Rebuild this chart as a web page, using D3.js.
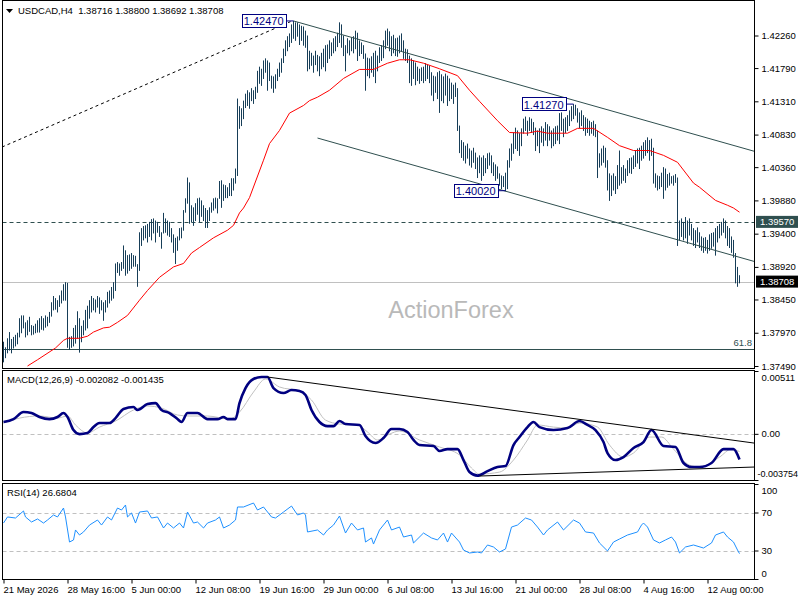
<!DOCTYPE html>
<html>
<head>
<meta charset="utf-8">
<script src="https://cdn.jsdelivr.net/npm/d3@7"></script>
<style>
body { margin: 0; background: #fff; }
svg text { font-family: "Liberation Sans", Arial, sans-serif; }
</style>
</head>
<body>
<script>
// USDCAD H4 bars, high / low per bar
var highs = [
1.3784,1.3776,1.3789,1.3798,1.3788,1.3791,1.3794,1.3797,1.3818,1.3822,
1.3822,1.3812,1.3815,1.3820,1.3808,1.3807,1.3810,1.3815,1.3818,1.3821,
1.3818,1.3822,1.3820,1.3827,1.3841,1.3850,1.3847,1.3844,1.3851,1.3858,
1.3867,1.3870,1.3869,1.3791,1.3792,1.3804,1.3808,1.3828,1.3818,1.3807,
1.3815,1.3830,1.3836,1.3844,1.3850,1.3847,1.3845,1.3850,1.3848,1.3844,
1.3841,1.3844,1.3856,1.3858,1.3863,1.3870,1.3897,1.3899,1.3897,1.3899,
1.3923,1.3916,1.3909,1.3910,1.3912,1.3909,1.3908,1.3896,1.3942,1.3948,
1.3951,1.3952,1.3954,1.3957,1.3961,1.3962,1.3959,1.3957,1.3951,1.3942,
1.3970,1.3962,1.3959,1.3957,1.3948,1.3939,1.3934,1.3936,1.3948,1.3949,
1.3974,1.3991,1.4021,1.4014,1.3981,1.3978,1.3984,1.3991,1.3992,1.3988,
1.3981,1.3977,1.3974,1.3978,1.3985,1.3991,1.3992,1.3991,1.4016,1.4017,
1.4011,1.4010,1.4007,1.4013,1.4020,1.4020,1.4034,1.4135,1.4124,1.4121,
1.4132,1.4142,1.4147,1.4144,1.4150,1.4147,1.4152,1.4175,1.4181,1.4178,
1.4190,1.4193,1.4190,1.4187,1.4168,1.4167,1.4170,1.4178,1.4187,1.4193,
1.4207,1.4219,1.4225,1.4229,1.4242,1.4247,1.4245,1.4245,1.4242,1.4240,
1.4239,1.4233,1.4226,1.4204,1.4201,1.4197,1.4204,1.4198,1.4196,1.4201,
1.4207,1.4212,1.4213,1.4219,1.4216,1.4222,1.4225,1.4230,1.4245,1.4242,
1.4226,1.4212,1.4222,1.4219,1.4223,1.4225,1.4233,1.4230,1.4219,1.4216,
1.4212,1.4200,1.4194,1.4193,1.4196,1.4201,1.4204,1.4197,1.4209,1.4212,
1.4219,1.4233,1.4236,1.4232,1.4225,1.4227,1.4222,1.4223,1.4226,1.4229,
1.4219,1.4207,1.4206,1.4197,1.4193,1.4190,1.4187,1.4181,1.4178,1.4180,
1.4181,1.4186,1.4184,1.4183,1.4173,1.4168,1.4167,1.4173,1.4175,1.4170,
1.4167,1.4171,1.4168,1.4164,1.4158,1.4155,1.4158,1.4150,1.4096,1.4075,
1.4072,1.4067,1.4070,1.4063,1.4060,1.4064,1.4057,1.4050,1.4053,1.4050,
1.4053,1.4049,1.4056,1.4057,1.4053,1.4043,1.4040,1.4037,1.4027,1.4024,
1.4023,1.4028,1.4046,1.4063,1.4070,1.4086,1.4093,1.4089,1.4085,1.4092,
1.4106,1.4109,1.4103,1.4108,1.4106,1.4101,1.4093,1.4089,1.4092,1.4095,
1.4092,1.4101,1.4098,1.4095,1.4089,1.4092,1.4095,1.4096,1.4114,1.4115,
1.4106,1.4108,1.4111,1.4118,1.4124,1.4127,1.4126,1.4121,1.4115,1.4118,
1.4111,1.4108,1.4106,1.4103,1.4101,1.4103,1.4098,1.4089,1.4056,1.4063,
1.4067,1.4064,1.4046,1.4027,1.4024,1.4027,1.4023,1.4039,1.4060,1.4036,
1.4039,1.4034,1.4046,1.4049,1.4050,1.4053,1.4060,1.4063,1.4064,1.4067,
1.4072,1.4075,1.4079,1.4075,1.4077,1.4064,1.4027,1.4024,1.4023,1.4028,
1.4036,1.4034,1.4026,1.4028,1.4023,1.4024,1.4026,1.4021,1.3959,1.3962,
1.3957,1.3964,1.3959,1.3962,1.3954,1.3948,1.3945,1.3949,1.3942,1.3936,
1.3934,1.3935,1.3931,1.3939,1.3941,1.3942,1.3948,1.3951,1.3954,1.3957,
1.3962,1.3959,1.3951,1.3948,1.3936,1.3931,1.3912,1.3892,1.3880
];
var lows = [
1.3755,1.3761,1.3768,1.3772,1.3768,1.3775,1.3778,1.3781,1.3791,1.3797,
1.3804,1.3791,1.3794,1.3799,1.3794,1.3795,1.3797,1.3798,1.3798,1.3802,
1.3801,1.3805,1.3807,1.3812,1.3821,1.3830,1.3831,1.3827,1.3835,1.3840,
1.3844,1.3844,1.3776,1.3773,1.3776,1.3778,1.3782,1.3789,1.3769,1.3784,
1.3794,1.3801,1.3804,1.3818,1.3827,1.3830,1.3827,1.3834,1.3825,1.3830,
1.3815,1.3827,1.3834,1.3840,1.3844,1.3847,1.3858,1.3884,1.3880,1.3887,
1.3890,1.3880,1.3883,1.3887,1.3890,1.3893,1.3893,1.3864,1.3887,1.3923,
1.3931,1.3934,1.3928,1.3936,1.3931,1.3941,1.3928,1.3942,1.3936,1.3919,
1.3941,1.3942,1.3938,1.3936,1.3928,1.3913,1.3897,1.3916,1.3931,1.3934,
1.3945,1.3971,1.3984,1.3955,1.3957,1.3952,1.3959,1.3968,1.3957,1.3965,
1.3959,1.3949,1.3949,1.3959,1.3971,1.3974,1.3977,1.3970,1.3991,1.3978,
1.3988,1.3992,1.3992,1.3995,1.3995,1.4003,1.4013,1.4024,1.4092,1.4096,
1.4106,1.4122,1.4125,1.4121,1.4132,1.4128,1.4135,1.4144,1.4157,1.4154,
1.4164,1.4173,1.4147,1.4161,1.4150,1.4144,1.4150,1.4161,1.4167,1.4173,
1.4187,1.4197,1.4204,1.4210,1.4216,1.4222,1.4219,1.4225,1.4213,1.4219,
1.4212,1.4209,1.4175,1.4178,1.4183,1.4173,1.4184,1.4175,1.4168,1.4178,
1.4181,1.4175,1.4187,1.4193,1.4197,1.4201,1.4204,1.4210,1.4216,1.4209,
1.4197,1.4175,1.4201,1.4198,1.4204,1.4201,1.4207,1.4190,1.4197,1.4200,
1.4193,1.4147,1.4168,1.4165,1.4173,1.4167,1.4158,1.4175,1.4187,1.4190,
1.4194,1.4207,1.4212,1.4204,1.4197,1.4201,1.4197,1.4196,1.4201,1.4204,
1.4193,1.4190,1.4187,1.4158,1.4154,1.4164,1.4155,1.4161,1.4157,1.4161,
1.4158,1.4161,1.4164,1.4158,1.4140,1.4132,1.4144,1.4135,1.4115,1.4132,
1.4129,1.4140,1.4125,1.4132,1.4135,1.4128,1.4138,1.4089,1.4057,1.4050,
1.4046,1.4042,1.4049,1.4039,1.4036,1.4043,1.4034,1.4021,1.4028,1.4017,
1.4024,1.4028,1.4034,1.4039,1.4028,1.4024,1.4017,1.4020,1.4010,1.4005,
1.4008,1.4002,1.4005,1.4036,1.4046,1.4056,1.4063,1.4060,1.4053,1.4067,
1.4085,1.4089,1.4082,1.4089,1.4086,1.4083,1.4060,1.4067,1.4057,1.4072,
1.4067,1.4075,1.4067,1.4075,1.4064,1.4067,1.4070,1.4075,1.4070,1.4089,
1.4080,1.4086,1.4089,1.4096,1.4103,1.4106,1.4111,1.4101,1.4093,1.4096,
1.4089,1.4082,1.4086,1.4082,1.4085,1.4082,1.4080,1.4021,1.4036,1.4039,
1.4043,1.4036,1.4003,1.3988,1.3995,1.4003,1.3998,1.4005,1.4010,1.4013,
1.4017,1.4014,1.4024,1.4028,1.4027,1.4034,1.4037,1.4042,1.4034,1.4046,
1.4049,1.4053,1.4057,1.4046,1.4053,1.4013,1.4007,1.4003,1.4005,1.4008,
1.3991,1.4003,1.4007,1.4010,1.4013,1.4010,1.4014,1.3923,1.3931,1.3936,
1.3931,1.3934,1.3926,1.3938,1.3931,1.3923,1.3920,1.3928,1.3920,1.3916,
1.3913,1.3916,1.3912,1.3916,1.3919,1.3922,1.3909,1.3928,1.3934,1.3938,
1.3942,1.3934,1.3923,1.3920,1.3913,1.3906,1.3869,1.3864,1.3869
];

// moving average (red), read at sample bars
var maBars = [12,17,26,30,32,38,42,45,50,53,57,62,68,72,78,85,90,94,98,105,112,115,118,120,123,130,133,138,143,150,153,157,163,170,178,185,192,198,203,210,218,227,233,238,247,253,262,267,272,282,287,295,302,308,315,323,330,337,345,348,356,362,365,368];
var maValues = [1.3749,1.3758,1.3775,1.3786,1.3789,1.3789,1.3792,1.3798,1.3804,1.3805,1.3812,1.3822,1.3844,1.3858,1.3877,1.3892,1.3897,1.3912,1.3920,1.3934,1.3945,1.3952,1.3970,1.3977,1.3992,1.4046,1.4070,1.4089,1.4114,1.4125,1.4132,1.4137,1.4147,1.4164,1.4177,1.4177,1.4186,1.4191,1.4191,1.4186,1.4178,1.4168,1.4147,1.4131,1.4103,1.4086,1.4085,1.4088,1.4085,1.4085,1.4092,1.4092,1.4079,1.4067,1.4060,1.4060,1.4053,1.4043,1.4013,1.4007,1.3988,1.3981,1.3977,1.3971];

// MACD(12,26,9)
var macdBars = [0,5,10,14,18,23,27,30,32,35,38,42,45,48,53,56,60,65,67,72,76,79,83,87,89,92,97,102,107,110,112,116,118,121,125,129,132,135,140,144,148,151,154,158,162,165,168,171,178,181,186,190,194,198,202,205,208,215,218,222,227,230,233,237,242,247,251,255,258,262,265,268,275,282,288,292,296,300,302,306,310,315,320,324,330,336,340,344,348,354,360,365,368];
var macdValues = [0.00096,0.00120,0.00177,0.00169,0.00137,0.00120,0.00137,0.00169,0.00137,0.00031,-0.00002,0.00007,0.00055,0.00088,0.00088,0.00128,0.00202,0.00218,0.00194,0.00242,0.00250,0.00194,0.00169,0.00120,0.00096,0.00169,0.00169,0.00120,0.00120,0.00137,0.00120,0.00120,0.00250,0.00372,0.00446,0.00462,0.00462,0.00372,0.00332,0.00356,0.00348,0.00316,0.00194,0.00096,0.00063,0.00063,0.00104,0.00080,0.00072,-0.00018,-0.00075,-0.00034,0.00039,0.00039,0.00015,-0.00050,-0.00091,-0.00099,-0.00140,-0.00124,-0.00124,-0.00213,-0.00311,-0.00340,-0.00303,-0.00270,-0.00262,-0.00091,-0.00026,0.00055,0.00096,0.00055,0.00031,0.00047,0.00104,0.00072,0.00031,-0.00067,-0.00156,-0.00213,-0.00189,-0.00115,-0.00067,0.00031,-0.00099,-0.00107,-0.00237,-0.00270,-0.00270,-0.00237,-0.00124,-0.00124,-0.00208];
var signalBars = [0,8,18,27,32,36,42,48,56,65,72,79,87,93,102,113,118,125,131,138,148,154,161,168,177,182,187,193,198,208,218,228,234,238,248,255,262,267,275,282,288,297,303,310,315,323,329,335,343,348,358,364,368];
var signalValues = [0.00088,0.00128,0.00145,0.00128,0.00145,0.00072,0.00007,0.00055,0.00104,0.00194,0.00226,0.00210,0.00153,0.00145,0.00145,0.00120,0.00177,0.00340,0.00446,0.00381,0.00348,0.00275,0.00112,0.00080,0.00072,0.00015,-0.00050,-0.00002,0.00023,-0.00050,-0.00107,-0.00172,-0.00278,-0.00327,-0.00311,-0.00213,-0.00050,0.00072,0.00055,0.00047,0.00088,0.00055,-0.00091,-0.00189,-0.00156,-0.00026,-0.00026,-0.00124,-0.00254,-0.00270,-0.00189,-0.00124,-0.00144];

// RSI(14)
var rsiBars = [0,2,6,10,11,14,17,20,22,25,27,30,31,33,35,36,38,40,43,47,49,52,54,57,59,61,62,64,66,68,72,74,77,80,82,85,88,90,92,95,97,100,102,106,108,110,113,116,117,120,125,127,130,134,136,140,144,147,150,151,152,157,160,162,165,168,171,174,177,180,181,184,185,188,192,194,198,200,204,205,210,214,217,220,222,224,228,230,233,237,239,242,245,248,251,254,257,261,264,267,270,272,277,280,285,288,291,295,298,302,305,308,312,317,319,320,322,325,328,331,334,336,338,341,345,350,354,356,360,362,365,367,368];
var rsiValues = [58.9,65.3,64.2,71.6,65.3,60.0,63.2,58.9,62.1,67.4,65.3,74.7,65.3,38.9,41.1,51.6,46.3,49.5,56.8,62.1,56.8,65.3,62.1,74.7,72.6,77.9,65.3,69.5,58.9,70.5,71.6,64.2,65.3,53.7,58.9,53.7,58.9,53.7,70.5,58.9,60.0,53.7,58.9,62.1,65.3,53.7,56.8,62.1,75.8,75.8,80.0,72.6,75.8,65.3,64.2,70.5,76.8,67.4,69.5,67.4,49.5,51.6,46.3,51.6,56.8,66.3,48.4,58.9,51.6,53.7,38.9,43.2,36.8,51.6,62.1,51.6,54.7,44.2,46.3,37.9,48.4,43.2,41.1,48.4,38.9,48.4,38.9,30.5,27.4,28.4,27.4,35.8,33.7,28.4,31.6,54.7,56.8,64.2,62.1,54.7,46.3,51.6,60.0,51.6,62.1,58.9,49.5,48.4,37.9,29.5,38.9,42.1,46.3,49.5,56.8,58.9,54.7,41.1,37.9,41.1,44.2,38.9,27.4,33.7,35.8,32.6,37.9,46.3,49.5,44.2,38.9,30.5,26.7];

// axes
var timeTickBars = [0,32,64,96,128,160,192,224,256,288,320,352];
var timeTickLabels = ['21 May 2026','28 May 16:00','5 Jun 00:00','12 Jun 08:00','19 Jun 16:00','29 Jun 00:00','6 Jul 08:00','13 Jul 16:00','21 Jul 00:00','28 Jul 08:00','4 Aug 16:00','12 Aug 00:00'];
var priceTicks = [1.42260,1.41790,1.41310,1.40830,1.40360,1.39880,1.39400,1.38920,1.38450,1.37970,1.37490];
var macdTicks = [0.00511, 0, -0.003754];
var macdTickLabels = ['0.00511', '0.00', '-0.003754'];
var rsiTicks = [100, 70, 30, 0];
var rsiLevels = [70, 30];

// objects on the price chart
var pivotBars = [145, 285, 251];
var pivotPrices = [1.42470, 1.41270, 1.40020];
var resistanceLevel = 1.39570;
var lastPrice = 1.38708;
var fibLevel = 1.37735, fibLabel = '61.8';
var trendDotted = [[-0.75, 1.4065], [143.5, 1.4246]];
var channelUpper = [[145, 1.4247], [375.25, 1.4059]];
var channelLower = [[157, 1.4078], [375.25, 1.3900]];
var macdUpper = [[132, 0.00462], [375.25, -0.00075]];
var macdLower = [[238, -0.00343], [375.25, -0.00270]];

var width = 800, height = 600;
var left = 2.5, right = 754.5;
var mainP = {top: 0.5, bottom: 368.5},
	macdP = {top: 370.5, bottom: 480.5},
	rsiP = {top: 483.5, bottom: 579.5};

var svg = d3.select('body').append('svg')
	.attr('width', width)
	.attr('height', height);

svg.append('rect').attr('width', width).attr('height', height).attr('fill', '#fff');

var x = d3.scaleLinear().domain([0, highs.length - 1]).range([3.5, 739.5]);
var yPrice = d3.scaleLinear().domain([1.37490, 1.42260]).range([366, 35.5]);
var yMacd = d3.scaleLinear().domain([-0.003754, 0.00511]).range([480, 371]);
var yRsi = d3.scaleLinear().domain([0, 100]).range([579, 484]);

var defs = svg.append('defs');
function clip(id, p) {
	defs.append('clipPath').attr('id', id).append('rect')
		.attr('x', left).attr('y', p.top).attr('width', right - left).attr('height', p.bottom - p.top);
}
clip('clipMain', mainP);
clip('clipMacd', macdP);
clip('clipRsi', rsiP);

// ---------- price panel ----------
var main = svg.append('g').attr('clip-path', 'url(#clipMain)');

main.append('text')
	.attr('x', 451).attr('y', 318)
	.attr('text-anchor', 'middle')
	.attr('font-size', '23.5px')
	.attr('fill', '#b9b9b9')
	.text('ActionForex');

function hline(g, y, color, dash) {
	g.append('line')
		.attr('x1', left).attr('x2', right)
		.attr('y1', Math.round(y) + 0.5).attr('y2', Math.round(y) + 0.5)
		.attr('stroke', color).attr('stroke-width', 1)
		.attr('stroke-dasharray', dash || null);
}
hline(main, yPrice(lastPrice), '#c0c0c0');
hline(main, yPrice(resistanceLevel), '#2f4f4f', '4,3');
hline(main, yPrice(fibLevel), '#2f4f4f');

main.append('text')
	.attr('x', 752).attr('y', yPrice(fibLevel) - 3)
	.attr('text-anchor', 'end')
	.attr('font-size', '9.5px')
	.attr('fill', '#2f4f4f')
	.text(fibLabel);

main.selectAll('.bar')
	.data(highs)
	.enter()
	.append('line')
	.attr('class', 'bar')
	.attr('x1', (d, i) => x(i))
	.attr('x2', (d, i) => x(i))
	.attr('y1', d => yPrice(d))
	.attr('y2', (d, i) => yPrice(lows[i]) + 0.5)
	.attr('stroke', '#173e58')
	.attr('stroke-width', 1);

var maLine = d3.line().x(d => x(d[0])).y(d => yPrice(d[1]));
main.append('path')
	.datum(d3.zip(maBars, maValues))
	.attr('d', maLine)
	.attr('fill', 'none')
	.attr('stroke', '#ff0000')
	.attr('stroke-width', 1);

function segment(g, pts, ys, color, dash) {
	g.append('line')
		.attr('x1', x(pts[0][0])).attr('y1', ys(pts[0][1]))
		.attr('x2', x(pts[1][0])).attr('y2', ys(pts[1][1]))
		.attr('stroke', color).attr('stroke-width', 1)
		.attr('stroke-dasharray', dash || null);
}
segment(main, trendDotted, yPrice, '#000', '3,3');
segment(main, channelUpper, yPrice, '#2f4f4f');
segment(main, channelLower, yPrice, '#2f4f4f');

// pivot labels
pivotBars.forEach(function(b, i) {
	var py = yPrice(pivotPrices[i]);
	var px = x(b);
	var t = main.append('text')
		.attr('font-size', '11px')
		.attr('fill', '#000080')
		.text(d3.format('.5f')(pivotPrices[i]));
	var w = t.node().getComputedTextLength();
	var bx = px - 8 - w - 4;
	main.insert('rect', 'text:last-of-type')
		.attr('x', Math.round(bx) + 0.5).attr('y', Math.round(py - 7) + 0.5)
		.attr('width', Math.round(w + 4)).attr('height', 13)
		.attr('fill', '#fff').attr('stroke', '#000080');
	t.attr('x', bx + 2).attr('y', py + 4.5);
	t.raise();
	main.append('line')
		.attr('x1', bx + w + 4.5).attr('x2', px)
		.attr('y1', py).attr('y2', py)
		.attr('stroke', '#000080');
});

// title
svg.append('path')
	.attr('d', 'M6,9 L13,9 L9.5,13 Z')
	.attr('fill', '#000');
svg.append('text')
	.attr('x', 18).attr('y', 14)
	.attr('font-size', '9.5px')
	.attr('fill', '#000')
	.attr('xml:space', 'preserve')
	.text('USDCAD,H4  1.38716 1.38800 1.38692 1.38708');

// price axis
var priceAxis = d3.axisRight(yPrice)
	.tickValues(priceTicks)
	.tickSize(4)
	.tickPadding(3)
	.tickFormat(d3.format('.5f'));
svg.append('g')
	.attr('transform', 'translate(' + right + ',0)')
	.call(priceAxis)
	.call(g => g.select('.domain').remove())
	.attr('font-family', null)
	.attr('font-size', '9.5px');

function priceTag(price, bg) {
	var y = yPrice(price);
	svg.append('rect')
		.attr('x', 756).attr('y', y - 6)
		.attr('width', 42).attr('height', 12)
		.attr('fill', bg);
	svg.append('text')
		.attr('x', 760).attr('y', y + 3.5)
		.attr('font-size', '9.5px')
		.attr('fill', '#fff')
		.text(d3.format('.5f')(price));
}
priceTag(resistanceLevel, '#2f4f4f');
priceTag(lastPrice, '#000');

// ---------- MACD panel ----------
var macd = svg.append('g').attr('clip-path', 'url(#clipMacd)');
hline(macd, yMacd(0), '#c0c0c0', '4,3');

macd.append('path')
	.datum(d3.zip(signalBars, signalValues))
	.attr('d', d3.line().curve(d3.curveMonotoneX).x(d => x(d[0])).y(d => yMacd(d[1])))
	.attr('fill', 'none')
	.attr('stroke', '#c0c0c0')
	.attr('stroke-width', 1);

macd.append('path')
	.datum(d3.zip(macdBars, macdValues))
	.attr('d', d3.line().curve(d3.curveMonotoneX).x(d => x(d[0])).y(d => yMacd(d[1])))
	.attr('fill', 'none')
	.attr('stroke', '#000080')
	.attr('stroke-width', 2.6)
	.attr('stroke-linejoin', 'round');

segment(macd, macdUpper, yMacd, '#000');
segment(macd, macdLower, yMacd, '#000');

svg.append('text')
	.attr('x', 7).attr('y', 383)
	.attr('font-size', '9.5px')
	.text('MACD(12,26,9) -0.002082 -0.001435');

function sideAxis(scale, ticks, fmt, p) {
	var g = svg.append('g')
		.attr('transform', 'translate(' + right + ',0)')
		.call(d3.axisRight(scale).tickValues(ticks).tickSize(4).tickPadding(3).tickFormat(fmt))
		.call(g => g.select('.domain').remove())
		.attr('font-family', null)
		.attr('font-size', '9.5px');
	g.selectAll('.tick').each(function(d) {
		var ty = scale(d);
		var c = Math.max(p.top + 6.5, Math.min(p.bottom - 6.5, ty));
		d3.select(this).select('text').attr('y', c - ty);
	});
	return g;
}
var macdAxis = sideAxis(yMacd, macdTicks, (d, i) => macdTickLabels[i], macdP);
// the long negative label sits tighter to the axis, as in the original
macdAxis.selectAll('.tick text')
	.filter(d => d < 0)
	.attr('x', 3)
	.attr('font-size', '9px');

// ---------- RSI panel ----------
var rsi = svg.append('g').attr('clip-path', 'url(#clipRsi)');
rsiLevels.forEach(function(l) { hline(rsi, yRsi(l), '#c0c0c0', '4,3'); });

rsi.append('path')
	.datum(d3.zip(rsiBars, rsiValues))
	.attr('d', d3.line().x(d => x(d[0])).y(d => yRsi(d[1])))
	.attr('fill', 'none')
	.attr('stroke', '#1e90ff')
	.attr('stroke-width', 1);

svg.append('text')
	.attr('x', 7).attr('y', 496)
	.attr('font-size', '9.5px')
	.text('RSI(14) 26.6804');

sideAxis(yRsi, rsiTicks, d3.format('d'), rsiP);

// panel frames
[mainP, macdP, rsiP].forEach(function(p) {
	svg.append('rect')
		.attr('x', left).attr('y', p.top)
		.attr('width', right - left).attr('height', p.bottom - p.top)
		.attr('fill', 'none').attr('stroke', '#000').attr('stroke-width', 1);
});

// time axis
var timeAxis = d3.axisBottom(x)
	.tickValues(timeTickBars)
	.tickSize(4)
	.tickPadding(3)
	.tickFormat((d, i) => timeTickLabels[i]);
svg.append('g')
	.attr('transform', 'translate(0,' + rsiP.bottom + ')')
	.call(timeAxis)
	.call(g => g.select('.domain').remove())
	.attr('font-family', null)
	.attr('font-size', '9.5px')
	.selectAll('text')
	.attr('text-anchor', 'start')
	.attr('x', -0.5);
</script>
</body>
</html>
